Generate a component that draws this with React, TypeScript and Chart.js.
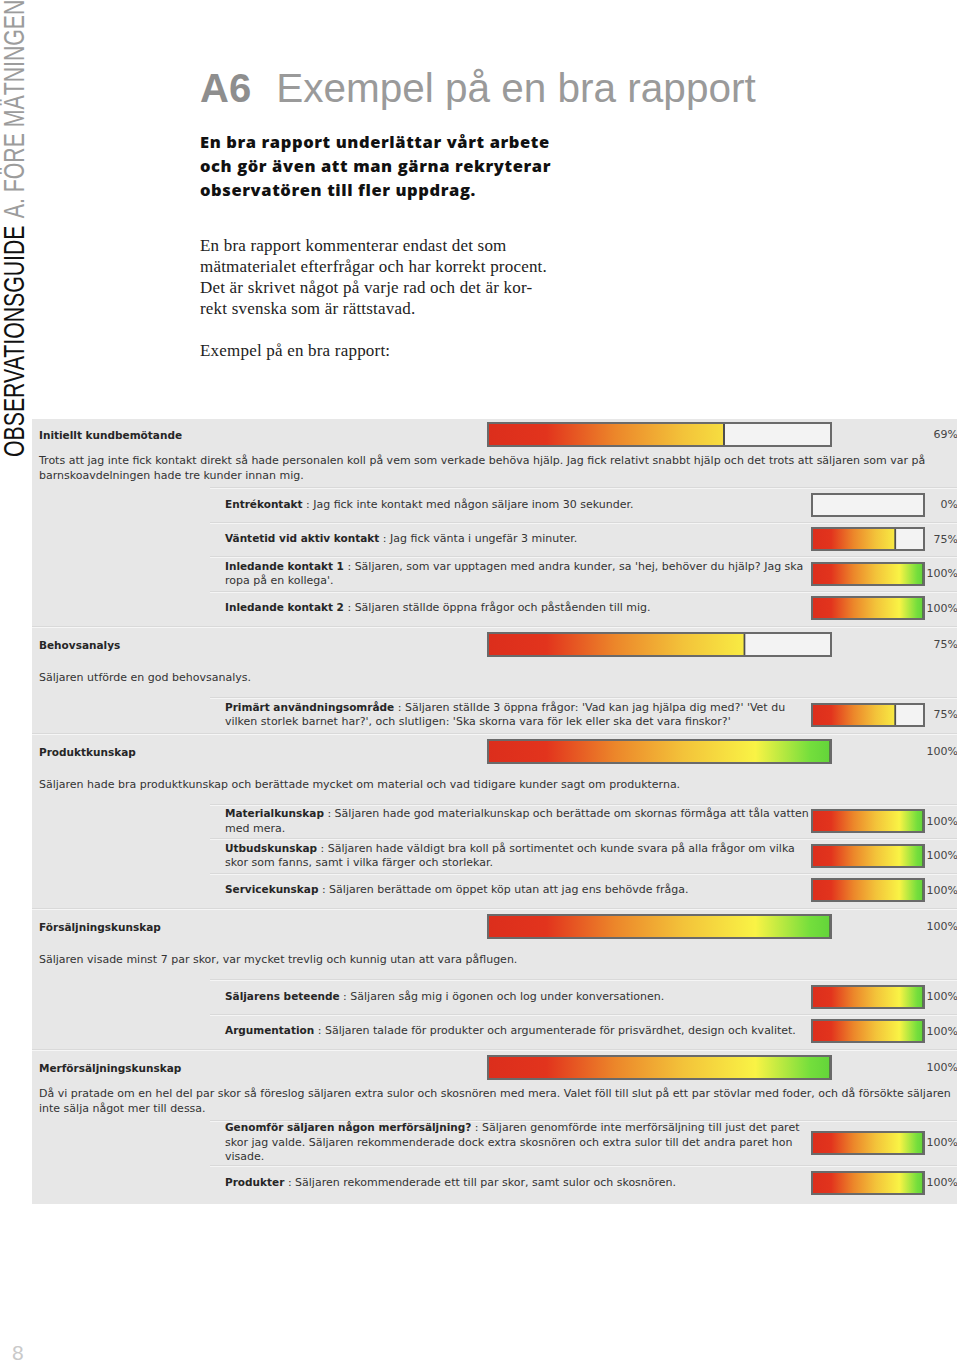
import React, { useEffect, useRef } from 'react';
import Chart from 'chart.js/auto';

// ---------- DATA ----------
const categoryNames = [
  'Initiellt kundbemötande',
  'Behovsanalys',
  'Produktkunskap',
  'Försäljningskunskap',
  'Merförsäljningskunskap',
];
const categoryScores = [69, 75, 100, 100, 100];
const categoryComments = [
  [
    'Trots att jag inte fick kontakt direkt så hade personalen koll på vem som verkade behöva hjälp. Jag fick relativt snabbt hjälp och det trots att säljaren som var på',
    'barnskoavdelningen hade tre kunder innan mig.',
  ],
  ['Säljaren utförde en god behovsanalys.'],
  ['Säljaren hade bra produktkunskap och berättade mycket om material och vad tidigare kunder sagt om produkterna.'],
  ['Säljaren visade minst 7 par skor, var mycket trevlig och kunnig utan att vara påflugen.'],
  [
    'Då vi pratade om en hel del par skor så föreslog säljaren extra sulor och skosnören med mera. Valet föll till slut på ett par stövlar med foder, och då försökte säljaren',
    'inte sälja något mer till dessa.',
  ],
];

const subParents = [0, 0, 0, 0, 1, 2, 2, 2, 3, 3, 4, 4];
const subNames = [
  'Entrékontakt',
  'Väntetid vid aktiv kontakt',
  'Inledande kontakt 1',
  'Inledande kontakt 2',
  'Primärt användningsområde',
  'Materialkunskap',
  'Utbudskunskap',
  'Servicekunskap',
  'Säljarens beteende',
  'Argumentation',
  'Genomför säljaren någon merförsäljning?',
  'Produkter',
];
const subScores = [0, 75, 100, 100, 75, 100, 100, 100, 100, 100, 100, 100];
const subComments = [
  ['Jag fick inte kontakt med någon säljare inom 30 sekunder.'],
  ['Jag fick vänta i ungefär 3 minuter.'],
  ["Säljaren, som var upptagen med andra kunder, sa 'hej, behöver du hjälp? Jag ska", "ropa på en kollega'."],
  ['Säljaren ställde öppna frågor och påståenden till mig.'],
  ["Säljaren ställde 3 öppna frågor: 'Vad kan jag hjälpa dig med?' 'Vet du", "vilken storlek barnet har?', och slutligen: 'Ska skorna vara för lek eller ska det vara finskor?'"],
  ['Säljaren hade god materialkunskap och berättade om skornas förmåga att tåla vatten', 'med mera.'],
  ['Säljaren hade väldigt bra koll på sortimentet och kunde svara på alla frågor om vilka', 'skor som fanns, samt i vilka färger och storlekar.'],
  ['Säljaren berättade om öppet köp utan att jag ens behövde fråga.'],
  ['Säljaren såg mig i ögonen och log under konversationen.'],
  ['Säljaren talade för produkter och argumenterade för prisvärdhet, design och kvalitet.'],
  ['Säljaren genomförde inte merförsäljning till just det paret', 'skor jag valde. Säljaren rekommenderade dock extra skosnören och extra sulor till det andra paret hon', 'visade.'],
  ['Säljaren rekommenderade ett till par skor, samt sulor och skosnören.'],
];

// ---------- STYLE ----------
const gradientStops: [number, string][] = [
  [0, '#dc2e1c'],
  [0.17, '#e2341d'],
  [0.37, '#ec862a'],
  [0.57, '#f3c33a'],
  [0.78, '#f9f345'],
  [0.94, '#74de3c'],
  [1, '#62d43a'],
];

const trackPlugin = {
  id: 'track',
  beforeDatasetsDraw(chart: any) {
    const { ctx, scales, chartArea } = chart;
    const x = scales.x;
    const l = x.getPixelForValue(0);
    const r = x.getPixelForValue(100);
    ctx.save();
    ctx.fillStyle = '#f3f3f3';
    ctx.fillRect(l, chartArea.top, r - l, chartArea.bottom - chartArea.top);
    ctx.restore();
  },
  afterDatasetsDraw(chart: any) {
    const { ctx, scales, chartArea } = chart;
    const x = scales.x;
    const l = x.getPixelForValue(0);
    const r = x.getPixelForValue(100);
    ctx.save();
    ctx.strokeStyle = '#6a6a6a';
    ctx.lineWidth = 2;
    ctx.strokeRect(l, chartArea.top, r - l, chartArea.bottom - chartArea.top);
    ctx.restore();
  },
};

function ScoreBar({ value, width, height }: { value: number; width: number; height: number }) {
  const ref = useRef<HTMLCanvasElement | null>(null);
  useEffect(() => {
    if (!ref.current) return;
    const chart = new Chart(ref.current, {
      type: 'bar',
      data: {
        labels: [''],
        datasets: [
          {
            data: [value],
            backgroundColor: (c: any) => {
              const ch = c.chart;
              const xs = ch.scales && ch.scales.x;
              if (!xs || !ch.chartArea) return '#e3351d';
              const g = ch.ctx.createLinearGradient(xs.getPixelForValue(0), 0, xs.getPixelForValue(100), 0);
              gradientStops.forEach(([o, col]) => g.addColorStop(o, col));
              return g;
            },
            borderColor: '#4e4e4e',
            borderWidth: { left: 0, top: 0, bottom: 0, right: 2 },
            borderSkipped: false,
            barPercentage: 1,
            categoryPercentage: 1,
          },
        ],
      },
      options: {
        indexAxis: 'y',
        responsive: false,
        maintainAspectRatio: false,
        animation: false,
        events: [],
        layout: { padding: 1 },
        scales: {
          x: { type: 'linear', min: 0, max: 100, display: false },
          y: { display: false },
        },
        plugins: { legend: { display: false }, tooltip: { enabled: false } },
      },
      plugins: [trackPlugin],
    } as any);
    return () => chart.destroy();
  }, [value, width, height]);
  return <canvas ref={ref} width={width} height={height} style={{ display: 'block', width, height }} />;
}

// ---------- LAYOUT ----------
const HEAD_H = 31;
const DESC_H = 37;
const SUB_H = 34.5;
const SUB_H3 = 45;
const SEP_H = 4;

type Row = { kind: 'head' | 'desc' | 'sub' | 'sep'; y: number; h: number; ci?: number; si?: number };

function buildRows() {
  const rows: Row[] = [];
  let y = 0;
  categoryNames.forEach((_, ci) => {
    if (ci > 0) {
      rows.push({ kind: 'sep', y, h: SEP_H });
      y += SEP_H;
    }
    rows.push({ kind: 'head', y, h: HEAD_H, ci });
    y += HEAD_H;
    rows.push({ kind: 'desc', y, h: DESC_H, ci });
    y += DESC_H;
    subNames.forEach((__, si) => {
      if (subParents[si] !== ci) return;
      const h = subComments[si].length >= 3 ? SUB_H3 : SUB_H;
      rows.push({ kind: 'sub', y, h, si });
      y += h;
    });
  });
  return { rows, total: y + 4.5 };
}

const textFont = '"DejaVu Sans", "Liberation Sans", sans-serif';
const boldStyle = { fontWeight: 700, color: '#262626', fontSize: 10.5 };

function Panel() {
  const { rows, total } = buildRows();
  return (
    <div
      style={{
        position: 'absolute',
        left: 32,
        top: 419,
        width: 925,
        height: Math.round(total),
        background: '#e7e7e7',
        overflow: 'hidden',
        fontFamily: textFont,
        fontSize: 11,
        color: '#333',
      }}
    >
      {rows.map((r, i) => {
        const top = Math.round(r.y);
        const h = Math.round(r.y + r.h) - top;
        if (r.kind === 'sep') {
          return (
            <div key={i} style={{ position: 'absolute', left: 0, right: 0, top, height: h }}>
              <div style={{ position: 'absolute', left: 0, right: 0, top: 1, height: 1, background: '#d9d9d9' }} />
              <div style={{ position: 'absolute', left: 0, right: 0, top: 2, height: 1, background: '#f6f6f6' }} />
            </div>
          );
        }
        if (r.kind === 'head') {
          const ci = r.ci as number;
          return (
            <div key={i} style={{ position: 'absolute', left: 0, right: 0, top, height: h }}>
              <div style={{ position: 'absolute', left: 7, top: 0, height: h, display: 'flex', alignItems: 'center', whiteSpace: 'nowrap', ...boldStyle }}>
                {categoryNames[ci]}
              </div>
              <div style={{ position: 'absolute', left: 455, top: Math.round((h - 25) / 2) }}>
                <ScoreBar value={categoryScores[ci]} width={345} height={25} />
              </div>
              <div style={{ position: 'absolute', right: -1, top: 0, height: h, display: 'flex', alignItems: 'center', fontSize: 11, color: '#444' }}>
                {categoryScores[ci] + '%'}
              </div>
            </div>
          );
        }
        if (r.kind === 'desc') {
          const ci = r.ci as number;
          return (
            <div key={i} style={{ position: 'absolute', left: 7, right: 0, top, height: h, display: 'flex', flexDirection: 'column', justifyContent: 'center' }}>
              {categoryComments[ci].map((line, li) => (
                <div key={li} style={{ lineHeight: '14.5px', whiteSpace: 'nowrap' }}>{line}</div>
              ))}
            </div>
          );
        }
        const si = r.si as number;
        return (
          <div key={i} style={{ position: 'absolute', left: 0, right: 0, top, height: h }}>
            <div style={{ position: 'absolute', left: 178, right: 0, top: 0, height: 1, background: '#d9d9d9' }} />
            <div style={{ position: 'absolute', left: 178, right: 0, top: 1, height: 1, background: '#f5f5f5' }} />
            <div style={{ position: 'absolute', left: 193, top: 0, height: h, display: 'flex', flexDirection: 'column', justifyContent: 'center' }}>
              {subComments[si].map((line, li) => (
                <div key={li} style={{ lineHeight: '14.5px', whiteSpace: 'nowrap' }}>
                  {li === 0 ? (
                    <>
                      <span style={boldStyle}>{subNames[si]}</span>
                      {' : ' + line}
                    </>
                  ) : (
                    line
                  )}
                </div>
              ))}
            </div>
            <div style={{ position: 'absolute', left: 779, top: Math.round((h - 24) / 2) }}>
              <ScoreBar value={subScores[si]} width={114} height={24} />
            </div>
            <div style={{ position: 'absolute', right: -1, top: 0, height: h, display: 'flex', alignItems: 'center', fontSize: 11, color: '#444' }}>
              {subScores[si] + '%'}
            </div>
          </div>
        );
      })}
    </div>
  );
}

export default function App() {
  return (
    <div style={{ position: 'absolute', left: 0, top: 0, width: 960, height: 1363, background: '#fff', overflow: 'hidden' }}>
      {/* Sidebar */}
      <div
        style={{
          position: 'absolute',
          left: 0,
          top: 0,
          transformOrigin: '0 0',
          transform: 'translate(0px, 457px) rotate(-90deg) scaleX(0.733)',
          whiteSpace: 'nowrap',
          fontFamily: '"Liberation Sans", Arial, sans-serif',
          fontSize: 29,
          lineHeight: 1,
        }}
      >
        <span style={{ color: '#111' }}>OBSERVATIONSGUIDE</span>
        <span style={{ color: '#9c9c9c', marginLeft: 10 }}>A. FÖRE MÄTNINGEN</span>
      </div>

      {/* Title */}
      <div
        style={{
          position: 'absolute',
          left: 200,
          top: 68,
          fontFamily: '"Liberation Sans", Arial, sans-serif',
          fontSize: 40,
          lineHeight: 1,
          whiteSpace: 'nowrap',
          color: '#9a9a9a',
        }}
      >
        <span style={{ fontWeight: 700, color: '#8e8e8e' }}>A6</span>
        <span style={{ marginLeft: 25, fontSize: 40.5 }}>Exempel på en bra rapport</span>
      </div>

      {/* Lead */}
      <div
        style={{
          position: 'absolute',
          left: 200,
          top: 130,
          fontFamily: '"Open Sans", "Noto Sans", sans-serif',
          fontWeight: 800,
          fontSize: 16.5,
          letterSpacing: 0.6,
          lineHeight: '24px',
          color: '#111',
          whiteSpace: 'nowrap',
        }}
      >
        <div>En bra rapport underlättar vårt arbete</div>
        <div>och gör även att man gärna rekryterar</div>
        <div>observatören till fler uppdrag.</div>
      </div>

      {/* Body */}
      <div
        style={{
          position: 'absolute',
          left: 200,
          top: 235,
          fontFamily: '"Liberation Serif", "DejaVu Serif", serif',
          fontSize: 17,
          letterSpacing: 0.2,
          lineHeight: '21px',
          color: '#222',
          whiteSpace: 'nowrap',
        }}
      >
        <div>En bra rapport kommenterar endast det som</div>
        <div>mätmaterialet efterfrågar och har korrekt procent.</div>
        <div>Det är skrivet något på varje rad och det är kor-</div>
        <div>rekt svenska som är rättstavad.</div>
        <div>&nbsp;</div>
        <div>Exempel på en bra rapport:</div>
      </div>

      <Panel />

      {/* Page number */}
      <div
        style={{
          position: 'absolute',
          left: 12,
          top: 1342,
          fontFamily: '"Liberation Sans", Arial, sans-serif',
          fontSize: 21,
          lineHeight: 1,
          color: '#c9c9c9',
        }}
      >
        8
      </div>
    </div>
  );
}
